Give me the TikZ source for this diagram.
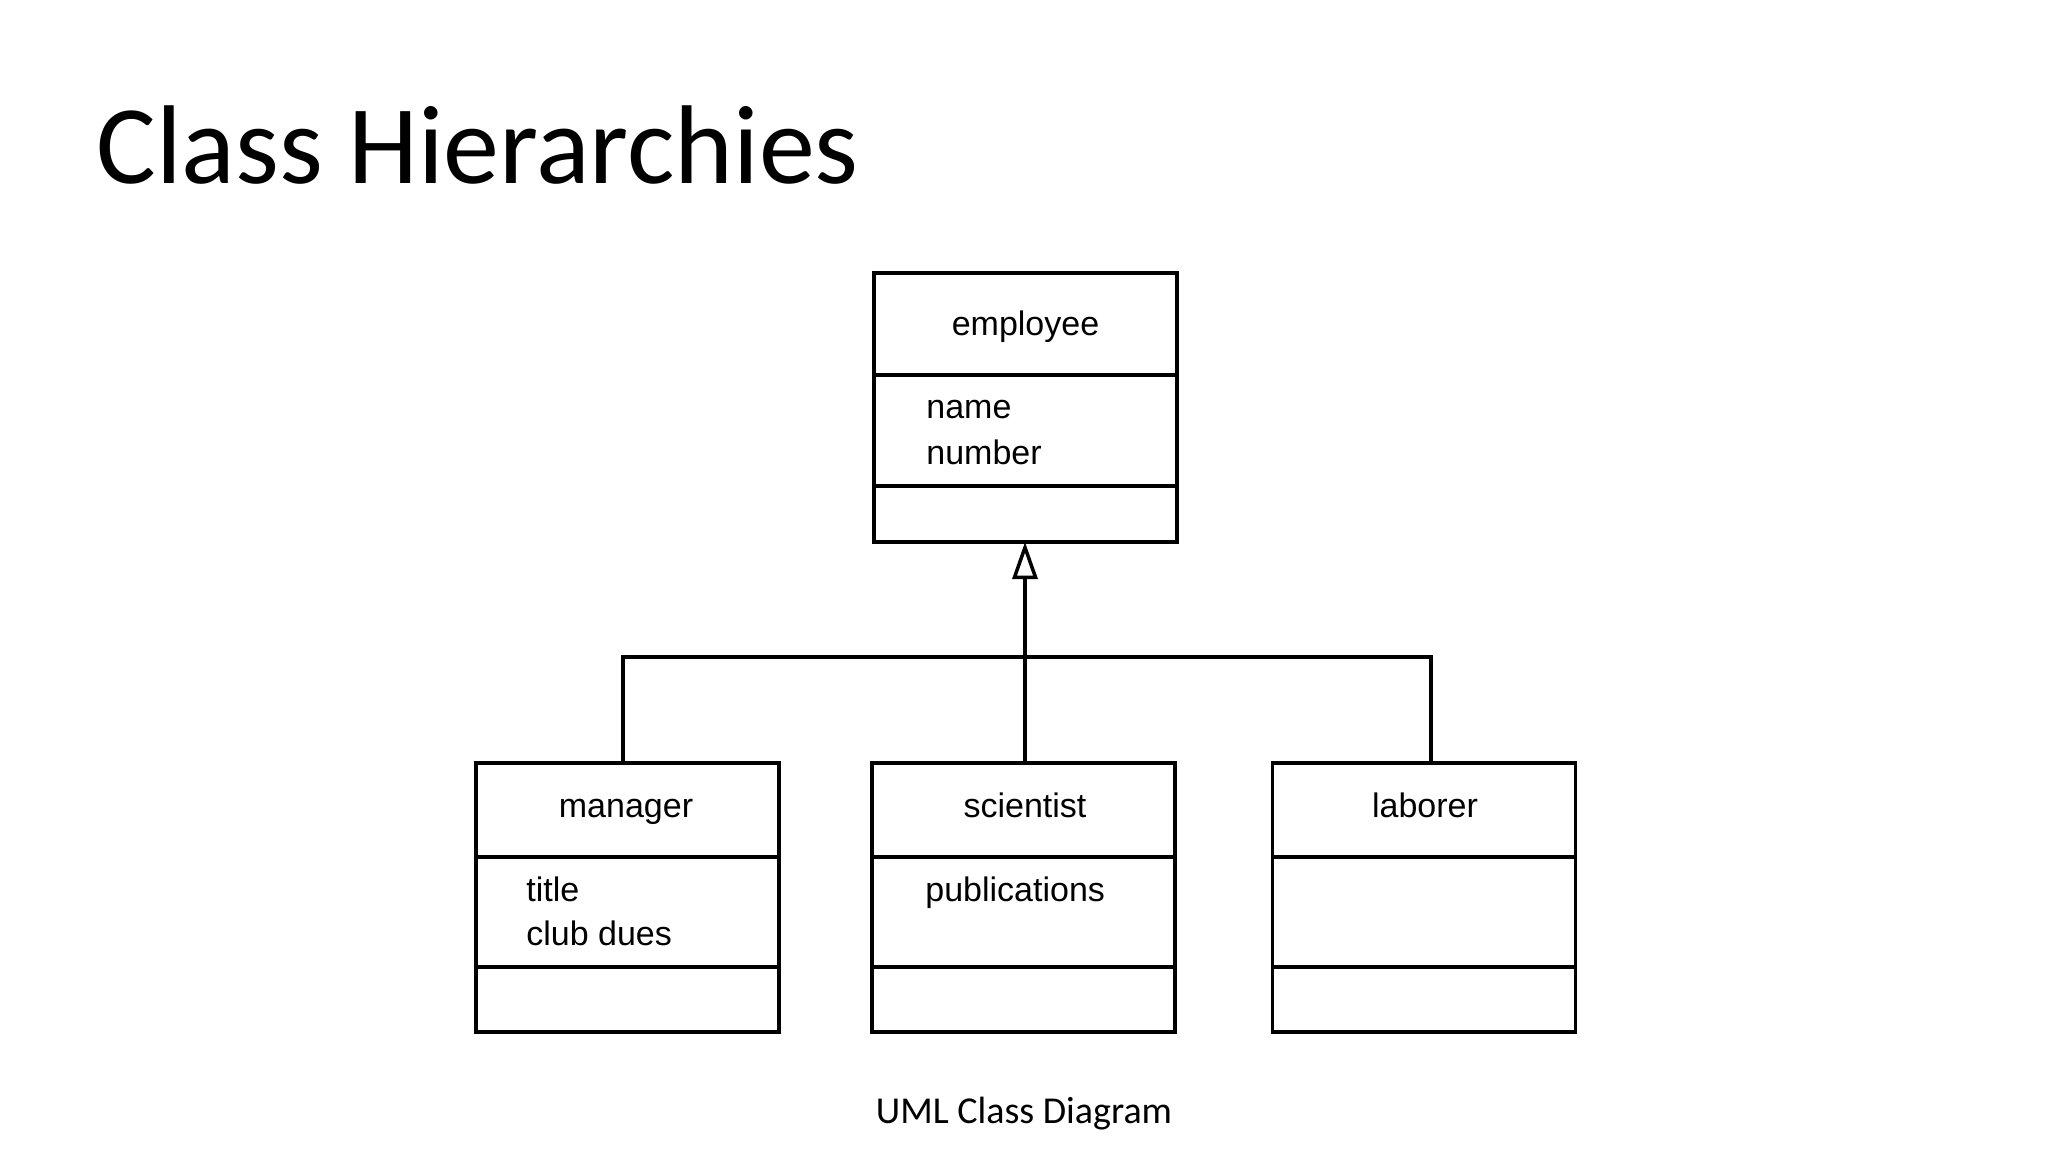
\documentclass[tikz,border=0pt]{standalone}
\usepackage{fontspec}
\setmainfont{Carlito}
\newfontfamily\helv{Liberation Sans}
\usetikzlibrary{arrows.meta,calc}
\begin{document}
\begin{tikzpicture}[x=0.5pt,y=-0.5pt,
  classbox/.style={draw,line width=1.85pt,minimum width=151.5pt,minimum height=134.5pt,inner sep=0pt,outer sep=0pt},
  divider/.style={line width=1.85pt},
  conn/.style={line width=1.75pt},
  cname/.style={anchor=base,inner sep=0pt,font=\helv\fontsize{17}{20}\selectfont},
  attr/.style={anchor=base west,inner sep=0pt,font=\helv\fontsize{17}{20}\selectfont}]
\useasboundingbox (0,0) rectangle (2048,1152);
\fill[white] (0,0) rectangle (2048,1152);
% title
\node[anchor=base west,inner sep=0pt,font=\fontsize{56}{60}\selectfont] (title) at (96,183) {Class Hierarchies};
% boxes
\node[classbox] (employee) at (1025.5,407.5) {};
\node[classbox] (manager) at (627.5,897.5) {};
\node[classbox] (scientist) at (1023.5,897.5) {};
\node[classbox] (laborer) at (1424,897.5) {};
% dividers
\draw[divider] (employee.west |- 0,375) -- (employee.east |- 0,375);
\draw[divider] (employee.west |- 0,486) -- (employee.east |- 0,486);
\foreach \b in {manager,scientist,laborer}{
  \draw[divider] (\b.west |- 0,857) -- (\b.east |- 0,857);
  \draw[divider] (\b.west |- 0,967) -- (\b.east |- 0,967);
}
% texts
\node[cname] (tEmp) at (1025.5,335) {employee};
\node[attr] (tName) at (926,418) {name};
\node[attr] (tNumber) at (926,464) {number};
\node[cname] (tMgr) at (626,817) {manager};
\node[attr] (tTitle) at (526,901) {title};
\node[attr] (tDues) at (526,945) {club dues};
\node[cname] (tSci) at (1025,817) {scientist};
\node[attr] (tPub) at (925,901) {publications};
\node[cname] (tLab) at (1425,817) {laborer};
% connectors
\coordinate (bar) at (1025,657);
\coordinate (mtop) at ($(manager.north)+(-4.5,0)$);
\coordinate (stop) at ($(scientist.north)+(1.5,0)$);
\coordinate (ltop) at ($(laborer.north)+(7,0)$);
\coordinate (etip) at (employee.south -| stop);
\draw[conn,-{Triangle[open,length=18.5pt,width=12.5pt,line width=1.75pt]}] (stop) -- (etip);
\draw[conn] (mtop) |- (bar) -| (ltop);
% caption
\node[anchor=base,inner sep=0pt,font=\fontsize{19}{22}\selectfont] (caption) at (1024,1123) {UML Class Diagram};
\end{tikzpicture}
\end{document}
